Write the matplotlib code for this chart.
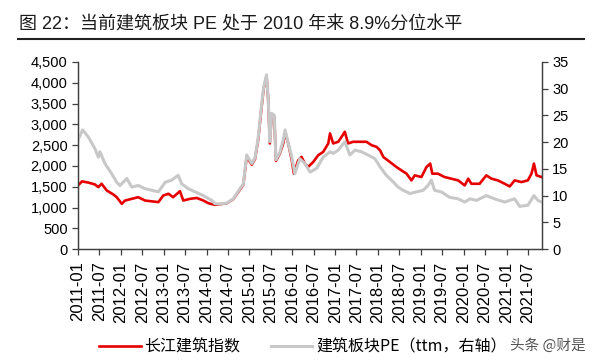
import matplotlib
matplotlib.use('Agg')
import matplotlib.pyplot as plt
import matplotlib.dates as mdates
from matplotlib.ticker import FuncFormatter
import pandas as pd

plt.rcParams['font.family'] = ['Liberation Sans', 'Noto Sans CJK SC', 'DejaVu Sans']
CJK = ['Noto Sans CJK SC', 'DejaVu Sans']
MIXED = ['Liberation Sans', 'Noto Sans CJK SC', 'DejaVu Sans']

TITLE = '图 22：当前建筑板块 PE 处于 2010 年来 8.9%分位水平'
LBL_IDX = '长江建筑指数'
LBL_PE = '建筑板块PE（ttm，右轴）'

# 长江建筑指数 (left axis)
idx_dates = [
    '2011-01-01', '2011-02-04', '2011-03-29', '2011-05-25', '2011-06-23', '2011-07-21',
    '2011-09-03', '2011-10-29', '2011-11-27', '2012-01-09', '2012-02-06', '2012-04-03',
    '2012-05-29', '2012-07-25', '2012-10-04', '2012-11-16', '2012-12-28', '2013-02-10',
    '2013-03-22', '2013-05-19', '2013-06-16', '2013-08-13', '2013-10-09', '2013-12-04',
    '2014-01-16', '2014-02-28', '2014-03-12', '2014-04-25', '2014-06-21', '2014-08-16',
    '2014-10-12', '2014-11-10', '2014-12-09', '2015-01-21', '2015-02-18', '2015-03-16',
    '2015-04-15', '2015-05-03', '2015-05-27', '2015-06-10', '2015-06-24', '2015-07-09',
    '2015-08-01', '2015-08-15', '2015-09-18', '2015-10-16', '2015-11-01', '2015-11-28',
    '2015-12-28', '2016-01-15', '2016-02-21', '2016-03-20', '2016-04-18', '2016-05-15',
    '2016-06-28', '2016-08-09', '2016-09-21', '2016-11-03', '2016-11-18', '2016-12-15',
    '2017-01-27', '2017-02-25', '2017-03-24', '2017-04-21', '2017-06-03', '2017-08-01',
    '2017-09-25', '2017-11-07', '2017-12-19', '2018-01-18', '2018-02-15', '2018-04-12',
    '2018-06-07', '2018-07-19', '2018-09-01', '2018-10-13', '2018-11-10', '2019-01-06',
    '2019-02-18', '2019-03-22', '2019-04-09', '2019-05-27', '2019-07-22', '2019-09-18',
    '2019-11-15', '2020-01-10', '2020-02-09', '2020-03-07', '2020-05-16', '2020-07-12',
    '2020-08-25', '2020-10-19', '2020-12-15', '2021-01-28', '2021-03-10', '2021-05-07',
    '2021-07-01', '2021-08-01', '2021-08-22', '2021-09-13', '2021-10-25',
]
idx_vals = [
    1530, 1628, 1600, 1555, 1490, 1572,
    1410, 1314, 1248, 1089, 1168, 1209,
    1248, 1168, 1144, 1130, 1289, 1330,
    1248, 1393, 1168, 1209, 1230, 1168,
    1104, 1072, 1065, 1080, 1100, 1200,
    1430, 1550, 2220, 2030, 2170, 2620,
    3420, 3870, 4150, 3600, 2540, 3220,
    3180, 2120, 2300, 2540, 2800, 2540,
    2136, 1814, 2136, 2216, 2056, 1974,
    2095, 2257, 2337, 2540, 2782, 2540,
    2580, 2700, 2821, 2540, 2580, 2580,
    2580, 2499, 2458, 2378, 2216, 2095,
    1974, 1894, 1814, 1652, 1773, 1733,
    1974, 2056, 1814, 1814, 1733, 1693,
    1652, 1531, 1693, 1571, 1571, 1773,
    1693, 1652, 1571, 1507, 1652, 1612,
    1652, 1814, 2056, 1774, 1733,
]

# 建筑板块PE ttm (right axis)
pe_dates = [
    '2011-01-01', '2011-02-09', '2011-03-29', '2011-05-25', '2011-06-23', '2011-07-07',
    '2011-08-19', '2011-10-15', '2011-11-27', '2011-12-25', '2012-02-21', '2012-04-03',
    '2012-05-29', '2012-07-25', '2012-09-21', '2012-11-16', '2013-01-13', '2013-03-09',
    '2013-05-04', '2013-06-03', '2013-07-28', '2013-09-25', '2013-12-04', '2014-02-15',
    '2014-03-12', '2014-04-25', '2014-06-21', '2014-08-16', '2014-10-12', '2014-11-10',
    '2014-12-09', '2015-01-21', '2015-02-18', '2015-03-16', '2015-04-15', '2015-05-03',
    '2015-05-27', '2015-06-10', '2015-06-24', '2015-07-09', '2015-08-01', '2015-08-15',
    '2015-09-18', '2015-10-16', '2015-11-01', '2015-11-28', '2015-12-28', '2016-01-23',
    '2016-03-06', '2016-04-18', '2016-06-01', '2016-07-27', '2016-09-21', '2016-11-18',
    '2016-12-15', '2017-01-27', '2017-03-24', '2017-05-06', '2017-06-18', '2017-08-12',
    '2017-10-09', '2017-12-06', '2018-01-18', '2018-03-13', '2018-05-09', '2018-06-21',
    '2018-08-03', '2018-10-01', '2018-11-25', '2019-01-21', '2019-03-03', '2019-04-01',
    '2019-04-28', '2019-06-25', '2019-09-03', '2019-11-15', '2020-01-10', '2020-02-25',
    '2020-04-18', '2020-07-12', '2020-09-21', '2020-12-15', '2021-03-10', '2021-04-22',
    '2021-07-01', '2021-08-22', '2021-09-25', '2021-10-25',
]
pe_vals = [
    20.4, 22.3, 21.0, 18.8, 17.2, 18.2,
    16.0, 14.1, 12.5, 11.9, 13.2, 11.6,
    11.9, 11.3, 11.0, 10.7, 12.5, 12.9,
    13.8, 12.2, 11.3, 10.7, 10.0, 9.1,
    8.5, 8.45, 8.6, 9.4, 11.3, 12.2,
    17.6, 16.0, 17.1, 20.7, 27.0, 30.4,
    32.6, 28.2, 20.1, 25.4, 25.0, 16.7,
    18.1, 20.4, 22.3, 19.8, 17.2, 14.1,
    16.9, 16.0, 14.4, 15.1, 17.2, 18.2,
    17.9, 18.5, 20.1, 17.6, 18.5, 18.2,
    17.6, 16.9, 15.4, 13.8, 12.6, 11.6,
    11.0, 10.4, 10.7, 11.0, 11.9, 12.9,
    11.0, 10.7, 9.7, 9.4, 8.8, 9.4,
    9.1, 10.0, 9.4, 8.8, 9.4, 8.0,
    8.2, 10.0, 9.1, 8.8,
]

left_ticks = [0, 500, 1000, 1500, 2000, 2500, 3000, 3500, 4000, 4500]
right_ticks = [0, 5, 10, 15, 20, 25, 30, 35]

RED = '#E60000'
GREY = '#C8C8C8'
AXC = '#404040'

fig = plt.figure(figsize=(6, 3.6), dpi=100)
ax = fig.add_axes([0.13, 0.308, 0.773, 0.52])
ax2 = ax.twinx()

ax.plot(pd.to_datetime(idx_dates), idx_vals, color=RED, lw=1.9, label=LBL_IDX)
ax2.plot(pd.to_datetime(pe_dates), pe_vals, color=GREY, lw=2.2, label=LBL_PE)

ax.set_xlim(pd.Timestamp('2011-01-01'), pd.Timestamp('2021-10-28'))
ax.set_ylim(0, 4500)
ax2.set_ylim(0, 35)
ax.set_yticks(left_ticks)
ax2.set_yticks(right_ticks)
ax.yaxis.set_major_formatter(FuncFormatter(lambda v, p: f'{int(v):,}'))

xt = pd.date_range('2011-01-01', '2021-07-01', freq='6MS')
ax.set_xticks(xt)
ax.xaxis.set_major_formatter(mdates.DateFormatter('%Y-%m'))
for lab in ax.get_xticklabels():
    lab.set_rotation(90)
    lab.set_fontsize(12)

for a in (ax, ax2):
    a.spines['top'].set_visible(False)
    for s in ('left', 'right', 'bottom'):
        a.spines[s].set_color(AXC)
        a.spines[s].set_linewidth(0.9)
    a.tick_params(colors=AXC, labelcolor='black', length=4, width=0.9, direction='out')
ax.tick_params(axis='y', labelsize=10.5)
ax2.tick_params(axis='y', labelsize=10.5)
ax.tick_params(axis='x', pad=5)

# title and rule
fig.text(0.031, 0.932, TITLE, fontsize=13, family=MIXED, va='center', ha='left', color='#1a1a1a')
fig.add_artist(plt.Line2D([0.03, 0.973], [0.892, 0.892], color='#222222', lw=1.5))

h1, l1 = ax.get_legend_handles_labels()
h2, l2 = ax2.get_legend_handles_labels()
fig.legend(h1 + h2, l1 + l2, loc='center', bbox_to_anchor=(0.505, 0.035), ncol=2,
           frameon=False, handlelength=2.6, handletextpad=0.25, columnspacing=1.9,
           prop={'family': CJK, 'size': 11.5})

fig.text(0.85, 0.04, '头条 @财是', fontsize=10.5, family=CJK, color='#555555', va='center', ha='left')

fig.savefig('out.png', dpi=100)
